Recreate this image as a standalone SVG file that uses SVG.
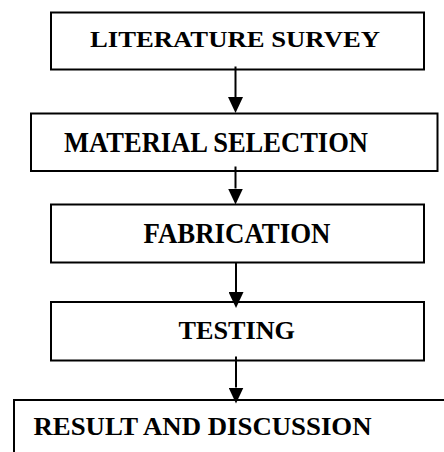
<svg xmlns="http://www.w3.org/2000/svg" width="444" height="452" viewBox="0 0 444 452">
  <style>
    .box { fill: #ffffff; stroke: #000000; stroke-width: 2; }
    .lbl { font-family: "Liberation Serif", "Times New Roman", serif; font-weight: bold; fill: #000000; }
    .conn { stroke: #000000; stroke-width: 2; fill: none; }
  </style>
  <defs>
    <marker id="ah" markerUnits="userSpaceOnUse" markerWidth="16" markerHeight="15" refX="0" refY="7.5" orient="auto">
      <path d="M0,0 L16,7.5 L0,15 Z" fill="#000000"/>
    </marker>
  </defs>
  <rect width="444" height="452" fill="#ffffff"/>

  <g id="node-literature">
    <rect class="box" x="51" y="12.5" width="373" height="57"/>
    <text class="lbl" x="90" y="47" font-size="24" textLength="290" lengthAdjust="spacingAndGlyphs">LITERATURE SURVEY</text>
  </g>
  <g id="node-material">
    <rect class="box" x="31" y="113.5" width="406.5" height="57.5"/>
    <text class="lbl" x="64" y="151.5" font-size="29" textLength="304" lengthAdjust="spacingAndGlyphs">MATERIAL SELECTION</text>
  </g>
  <g id="node-fabrication">
    <rect class="box" x="51" y="204.5" width="373" height="58"/>
    <text class="lbl" x="143.5" y="243.3" font-size="29" textLength="187" lengthAdjust="spacingAndGlyphs">FABRICATION</text>
  </g>
  <g id="node-testing">
    <rect class="box" x="51" y="302" width="373" height="58.5"/>
    <text class="lbl" x="178.5" y="338.5" font-size="25" textLength="116.5" lengthAdjust="spacingAndGlyphs">TESTING</text>
  </g>
  <g id="node-result">
    <rect class="box" x="14" y="400" width="450" height="70"/>
    <text class="lbl" x="33.5" y="435" font-size="25" textLength="338" lengthAdjust="spacingAndGlyphs">RESULT AND DISCUSSION</text>
  </g>

  <g id="connectors">
    <line class="conn" x1="235.5" y1="66.5" x2="235.5" y2="97" marker-end="url(#ah)"/>
    <line class="conn" x1="235.5" y1="166.5" x2="235.5" y2="188.5" marker-end="url(#ah)"/>
    <line class="conn" x1="236" y1="262.5" x2="236" y2="292" marker-end="url(#ah)"/>
    <line class="conn" x1="236" y1="356.5" x2="236" y2="387.5" marker-end="url(#ah)"/>
  </g>
</svg>
